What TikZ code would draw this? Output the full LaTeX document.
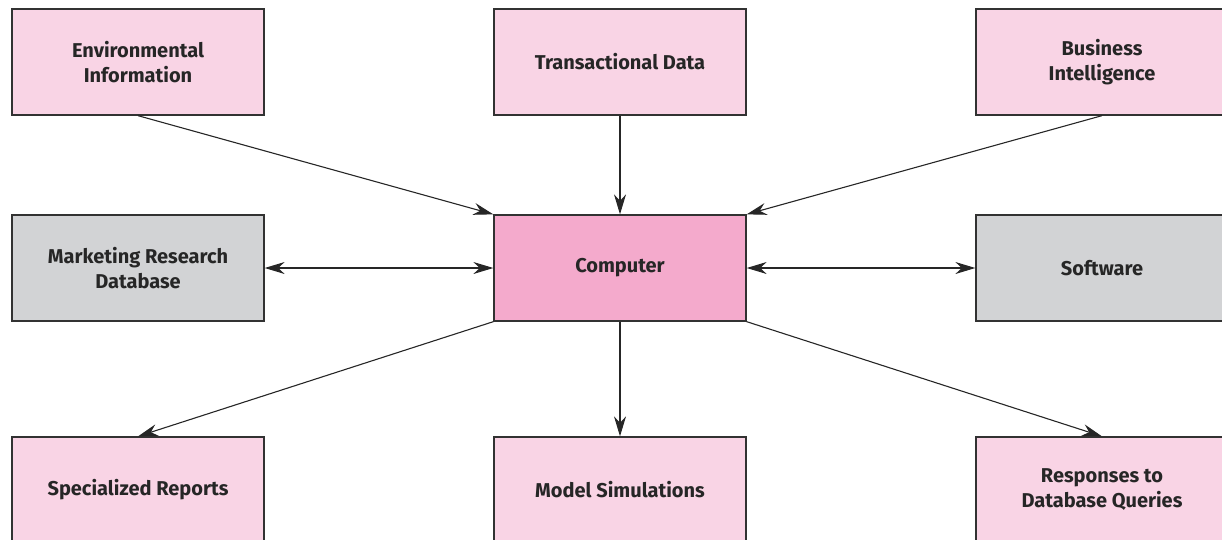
\documentclass[tikz,border=0pt]{standalone}
\usepackage{fontspec}
\setmainfont{Fira Sans}
\usetikzlibrary{arrows.meta}

\definecolor{lightpink}{RGB}{249,212,229}
\definecolor{midpink}{RGB}{244,170,204}
\definecolor{boxgray}{RGB}{210,211,213}
\definecolor{edgegray}{RGB}{50,50,50}

\tikzset{
  infobox/.style={draw=edgegray, line width=1.3pt, fill=lightpink, minimum width=252pt,
    minimum height=106pt, align=center, inner sep=0pt,
    font=\fontsize{20}{25}\selectfont\bfseries, text=black!85},
  hubbox/.style={infobox, fill=midpink},
  storebox/.style={infobox, fill=boxgray},
  flow/.style={-{Stealth[length=20pt,width=12pt]}, line width=1.1pt, draw=black!85},
  twoway/.style={{Stealth[length=20pt,width=12pt]}-{Stealth[length=20pt,width=12pt]}, line width=1.1pt, draw=black!85}
}

\begin{document}
\begin{tikzpicture}[x=1pt, y=-1pt]
            \useasboundingbox (0,0) rectangle (1222,539);
            \clip (0,0) rectangle (1222,539);

            % Inputs
            \node[infobox] (env) at (138,62) {Environmental\\Information};
            \node[infobox] (trans) at (620,62) {Transactional Data};
            \node[infobox] (bi) at (1102,62) {Business\\Intelligence};

            % Middle row
            \node[storebox] (mrdb) at (138,268) {Marketing Research\\Database};
            \node[hubbox] (comp) at (620,268) {Computer};
            \node[storebox] (soft) at (1102,268) {Software};

            % Outputs
            \node[infobox] (reports) at (138,490) {Specialized Reports};
            \node[infobox] (sims) at (620,490) {Model Simulations};
            \node[infobox] (queries) at (1102,490) {Responses to\\Database Queries};

            % Arrows into the computer
            \draw[flow] (env.south) -- (comp.north west);
            \draw[flow] (trans) -- (comp);
            \draw[flow] (bi.south) -- (comp.north east);

            % Two-way links
            \draw[twoway] (mrdb) -- (comp);
            \draw[twoway] (comp) -- (soft);

            % Arrows out of the computer
            \draw[flow] (comp.south west) -- (reports.north);
            \draw[flow] (comp) -- (sims);
            \draw[flow] (comp.south east) -- (queries.north);
        \end{tikzpicture}
\end{document}
